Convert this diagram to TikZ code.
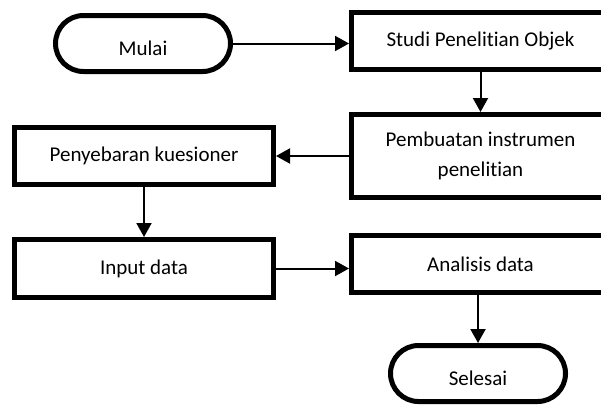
\documentclass[tikz,border=0pt]{standalone}
\usepackage{fontspec}
\setmainfont{Carlito}[Ligatures={NoCommon}]
\usetikzlibrary{arrows.meta,shapes.misc}

\tikzset{
  stepbox/.style={draw, line width=5pt, inner sep=0pt, align=center,
    font=\fontsize{21}{30}\selectfont},
  terminal/.style={draw, rounded rectangle, line width=5pt, inner sep=0pt,
    minimum width=175pt, minimum height=56pt, text height=23pt, text depth=0pt,
    font=\fontsize{21}{30}\selectfont},
  flow/.style={-{Triangle[length=14pt,width=15pt]}, line width=2pt}
}

\begin{document}
\begin{tikzpicture}[x=1pt, y=-1pt]
  \useasboundingbox (0,0) rectangle (601,405);
  \clip (0,0) rectangle (601,405);

  % Start and end
  \node[terminal] (mulai) at (143,43.5) {Mulai};
  \node[terminal] (selesai) at (478,373.5) {Selesai};

  % Right column
  \node[stepbox, minimum width=258pt, minimum height=57pt] (studi) at (480.5,41) {Studi Penelitian Objek};
  \node[stepbox, minimum width=258pt, minimum height=83pt] (pembuatan) at (480.5,156) {Pembuatan instrumen\\penelitian};
  \node[stepbox, minimum width=258pt, minimum height=57pt] (analisis) at (480.5,264) {Analisis data};

  % Left column
  \node[stepbox, minimum width=259pt, minimum height=57pt] (penyebaran) at (144,156) {Penyebaran kuesioner};
  \node[stepbox, minimum width=259pt, minimum height=58pt] (input) at (144,268.5) {Input data};

  % Flow
  \draw[flow] (mulai.east) -- (mulai.east -| studi.west);
  \draw[flow] (studi.south) -- (pembuatan.north);
  \draw[flow] (pembuatan.west) -- (pembuatan.west -| penyebaran.east);
  \draw[flow] (penyebaran.south) -- (input.north);
  \draw[flow] (input.east) -- (input.east -| analisis.west);
  \draw[flow] (analisis.south -| selesai.north) -- (selesai.north);
\end{tikzpicture}
\end{document}
